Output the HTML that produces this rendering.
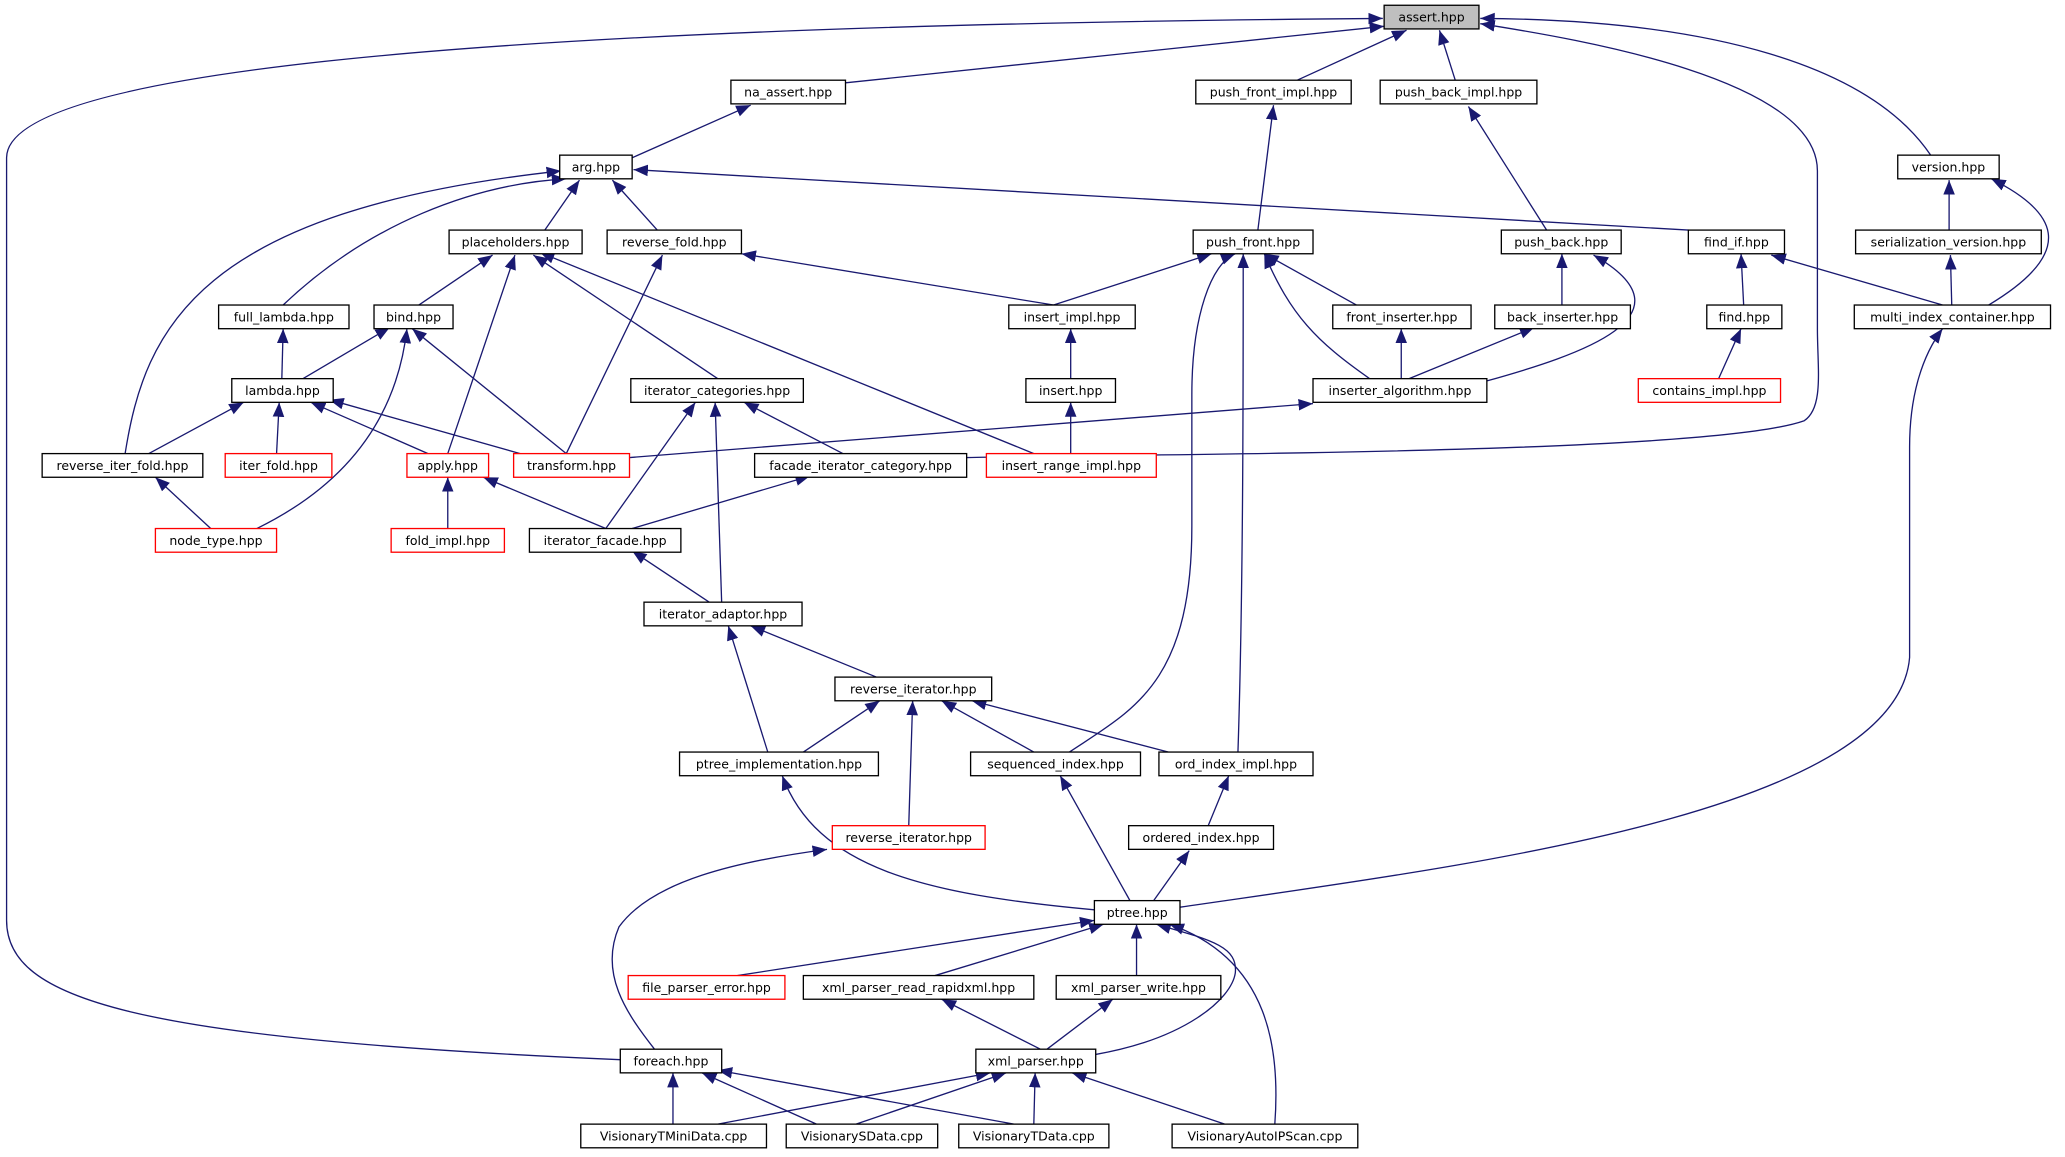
<!DOCTYPE html>
<html><head><meta charset="utf-8"><style>html,body{margin:0;padding:0;background:#fff}svg{display:block}text{font-family:"DejaVu Sans","Liberation Sans",sans-serif;font-size:9.5px;fill:#000}</style></head><body>
<svg width="2065" height="1157" viewBox="0 0 1568 880" preserveAspectRatio="none" xmlns="http://www.w3.org/2000/svg">
<defs><marker id="a" viewBox="0 0 10 10" refX="10" refY="5" markerWidth="11" markerHeight="11" markerUnits="userSpaceOnUse" orient="auto"><path d="M0,1 L10,5 L0,9 z" fill="#191970"/></marker></defs>
<g fill="none" stroke="#191970" stroke-width="1" marker-end="url(#a)">
<path d="M642,63 L1051,20"/>
<path d="M985,61 L1068,23"/>
<path d="M1105,61 L1093,23"/>
<path d="M1466,118 C1420,50 1300,15 1124,14"/>
<path d="M734,348 C900,345 1300,345 1370,320 C1385,310 1380,280 1380,250 L1380,130 C1380,60 1200,30 1124,18"/>
<path d="M471,806 C100,790 5,760 5,700 L5,120 C5,60 300,20 1050,14"/>
<path d="M480,120 L570,80"/>
<path d="M1282,175 L481,129"/>
<path d="M413,176 L440,137"/>
<path d="M500,176 L465,137"/>
<path d="M215,232 C280,170 360,140 430,136"/>
<path d="M95,345 C110,250 150,160 426,130"/>
<path d="M955,176 L967,80"/>
<path d="M1175,176 L1115,81"/>
<path d="M1480,176 L1480,137"/>
<path d="M1510,232 C1580,190 1560,160 1512,136"/>
<path d="M1475,232 L1345,194"/>
<path d="M1482,232 L1481,194"/>
<path d="M1324,232 L1322,193"/>
<path d="M1305,288 L1322,250"/>
<path d="M318,232 L374,194"/>
<path d="M340,345 L391,194"/>
<path d="M545,288 L405,194"/>
<path d="M785,345 L410,192"/>
<path d="M430,345 L503,194"/>
<path d="M800,232 L563,193"/>
<path d="M800,232 L920,193"/>
<path d="M1030,232 L960,193"/>
<path d="M1040,288 C1000,260 980,240 960,193"/>
<path d="M812,572 C860,540 905,520 905,400 L905,300 C905,240 920,200 938,193"/>
<path d="M940,572 C944,450 944,300 944,193"/>
<path d="M1186,232 L1186,193"/>
<path d="M1128,290 C1200,270 1290,240 1210,194"/>
<path d="M1064,288 L1064,250"/>
<path d="M1070,288 L1165,249"/>
<path d="M214,288 L215,250"/>
<path d="M230,288 L296,249"/>
<path d="M430,345 L313,250"/>
<path d="M195,402 C250,375 300,330 309,250"/>
<path d="M813,288 L813,250"/>
<path d="M478,348 L997,307"/>
<path d="M113,345 L185,306"/>
<path d="M210,345 L212,306"/>
<path d="M325,345 L236,306"/>
<path d="M395,345 L250,304"/>
<path d="M640,345 L565,306"/>
<path d="M460,402 L528,306"/>
<path d="M548,459 L543,306"/>
<path d="M813,345 L813,306"/>
<path d="M160,402 L118,363"/>
<path d="M340,402 L340,363"/>
<path d="M460,402 L367,363"/>
<path d="M480,402 L615,362"/>
<path d="M540,459 L480,419"/>
<path d="M668,516 L570,476"/>
<path d="M583,572 L553,476"/>
<path d="M610,572 L668,533"/>
<path d="M690,629 L693,533"/>
<path d="M785,572 L715,533"/>
<path d="M887,572 L738,533"/>
<path d="M858,685 L805,590"/>
<path d="M917,629 L933,590"/>
<path d="M876,685 L903,647"/>
<path d="M831,692 C700,680 620,660 594,590"/>
<path d="M896,690 C1100,660 1440,620 1450,500 L1450,340 C1450,300 1460,270 1475,250"/>
<path d="M497,798 C475,770 455,740 470,705 C495,670 560,655 628,646"/>
<path d="M560,742 L831,700"/>
<path d="M710,742 L838,703"/>
<path d="M863,742 L863,703"/>
<path d="M832,802 C900,790 935,760 938,740 C940,720 920,715 878,703"/>
<path d="M968,855 C972,800 965,730 888,703"/>
<path d="M790,798 L715,760"/>
<path d="M795,798 L845,760"/>
<path d="M511,855 L511,816"/>
<path d="M620,855 L533,816"/>
<path d="M770,855 L545,814"/>
<path d="M545,855 L752,816"/>
<path d="M650,855 L764,816"/>
<path d="M785,855 L786,816"/>
<path d="M930,855 L814,816"/>
</g>
<g stroke-width="1">
<rect x="1051" y="4" width="72" height="18" fill="#bfbfbf" stroke="#000"/><text x="1087" y="16.5" text-anchor="middle">assert.hpp</text>
<rect x="555" y="61" width="87" height="18" fill="#fff" stroke="#000"/><text x="598.5" y="73.5" text-anchor="middle">na_assert.hpp</text>
<rect x="908" y="61" width="118" height="18" fill="#fff" stroke="#000"/><text x="967" y="73.5" text-anchor="middle">push_front_impl.hpp</text>
<rect x="1048" y="61" width="119" height="18" fill="#fff" stroke="#000"/><text x="1107.5" y="73.5" text-anchor="middle">push_back_impl.hpp</text>
<rect x="1441" y="118" width="77" height="18" fill="#fff" stroke="#000"/><text x="1479.5" y="130.5" text-anchor="middle">version.hpp</text>
<rect x="425" y="118" width="55" height="18" fill="#fff" stroke="#000"/><text x="452.5" y="130.5" text-anchor="middle">arg.hpp</text>
<rect x="341" y="175" width="101" height="18" fill="#fff" stroke="#000"/><text x="391.5" y="187.5" text-anchor="middle">placeholders.hpp</text>
<rect x="461" y="175" width="102" height="18" fill="#fff" stroke="#000"/><text x="512" y="187.5" text-anchor="middle">reverse_fold.hpp</text>
<rect x="906" y="175" width="91" height="18" fill="#fff" stroke="#000"/><text x="951.5" y="187.5" text-anchor="middle">push_front.hpp</text>
<rect x="1140" y="175" width="91" height="18" fill="#fff" stroke="#000"/><text x="1185.5" y="187.5" text-anchor="middle">push_back.hpp</text>
<rect x="1282" y="175" width="73" height="18" fill="#fff" stroke="#000"/><text x="1318.5" y="187.5" text-anchor="middle">find_if.hpp</text>
<rect x="1409" y="175" width="141" height="18" fill="#fff" stroke="#000"/><text x="1479.5" y="187.5" text-anchor="middle">serialization_version.hpp</text>
<rect x="166" y="232" width="99" height="18" fill="#fff" stroke="#000"/><text x="215.5" y="244.5" text-anchor="middle">full_lambda.hpp</text>
<rect x="284" y="232" width="60" height="18" fill="#fff" stroke="#000"/><text x="314" y="244.5" text-anchor="middle">bind.hpp</text>
<rect x="766" y="232" width="96" height="18" fill="#fff" stroke="#000"/><text x="814" y="244.5" text-anchor="middle">insert_impl.hpp</text>
<rect x="1012" y="232" width="105" height="18" fill="#fff" stroke="#000"/><text x="1064.5" y="244.5" text-anchor="middle">front_inserter.hpp</text>
<rect x="1135" y="232" width="103" height="18" fill="#fff" stroke="#000"/><text x="1186.5" y="244.5" text-anchor="middle">back_inserter.hpp</text>
<rect x="1296" y="232" width="57" height="18" fill="#fff" stroke="#000"/><text x="1324.5" y="244.5" text-anchor="middle">find.hpp</text>
<rect x="1408" y="232" width="149" height="18" fill="#fff" stroke="#000"/><text x="1482.5" y="244.5" text-anchor="middle">multi_index_container.hpp</text>
<rect x="176" y="288" width="77" height="18" fill="#fff" stroke="#000"/><text x="214.5" y="300.5" text-anchor="middle">lambda.hpp</text>
<rect x="479" y="288" width="131" height="18" fill="#fff" stroke="#000"/><text x="544.5" y="300.5" text-anchor="middle">iterator_categories.hpp</text>
<rect x="779" y="288" width="68" height="18" fill="#fff" stroke="#000"/><text x="813" y="300.5" text-anchor="middle">insert.hpp</text>
<rect x="997" y="288" width="132" height="18" fill="#fff" stroke="#000"/><text x="1063" y="300.5" text-anchor="middle">inserter_algorithm.hpp</text>
<rect x="1244" y="288" width="108" height="18" fill="#fff" stroke="#f00"/><text x="1298" y="300.5" text-anchor="middle">contains_impl.hpp</text>
<rect x="32" y="345" width="122" height="18" fill="#fff" stroke="#000"/><text x="93" y="357.5" text-anchor="middle">reverse_iter_fold.hpp</text>
<rect x="171" y="345" width="81" height="18" fill="#fff" stroke="#f00"/><text x="211.5" y="357.5" text-anchor="middle">iter_fold.hpp</text>
<rect x="309" y="345" width="62" height="18" fill="#fff" stroke="#f00"/><text x="340" y="357.5" text-anchor="middle">apply.hpp</text>
<rect x="390" y="345" width="88" height="18" fill="#fff" stroke="#f00"/><text x="434" y="357.5" text-anchor="middle">transform.hpp</text>
<rect x="573" y="345" width="161" height="18" fill="#fff" stroke="#000"/><text x="653.5" y="357.5" text-anchor="middle">facade_iterator_category.hpp</text>
<rect x="749" y="345" width="129" height="18" fill="#fff" stroke="#f00"/><text x="813.5" y="357.5" text-anchor="middle">insert_range_impl.hpp</text>
<rect x="118" y="402" width="92" height="18" fill="#fff" stroke="#f00"/><text x="164" y="414.5" text-anchor="middle">node_type.hpp</text>
<rect x="297" y="402" width="86" height="18" fill="#fff" stroke="#f00"/><text x="340" y="414.5" text-anchor="middle">fold_impl.hpp</text>
<rect x="402" y="402" width="115" height="18" fill="#fff" stroke="#000"/><text x="459.5" y="414.5" text-anchor="middle">iterator_facade.hpp</text>
<rect x="489" y="458" width="120" height="18" fill="#fff" stroke="#000"/><text x="549" y="470.5" text-anchor="middle">iterator_adaptor.hpp</text>
<rect x="634" y="515" width="119" height="18" fill="#fff" stroke="#000"/><text x="693.5" y="527.5" text-anchor="middle">reverse_iterator.hpp</text>
<rect x="516" y="572" width="151" height="18" fill="#fff" stroke="#000"/><text x="591.5" y="584.5" text-anchor="middle">ptree_implementation.hpp</text>
<rect x="737" y="572" width="129" height="18" fill="#fff" stroke="#000"/><text x="801.5" y="584.5" text-anchor="middle">sequenced_index.hpp</text>
<rect x="880" y="572" width="117" height="18" fill="#fff" stroke="#000"/><text x="938.5" y="584.5" text-anchor="middle">ord_index_impl.hpp</text>
<rect x="632" y="628" width="116" height="18" fill="#fff" stroke="#f00"/><text x="690" y="640.5" text-anchor="middle">reverse_iterator.hpp</text>
<rect x="857" y="628" width="110" height="18" fill="#fff" stroke="#000"/><text x="912" y="640.5" text-anchor="middle">ordered_index.hpp</text>
<rect x="831" y="685" width="65" height="18" fill="#fff" stroke="#000"/><text x="863.5" y="697.5" text-anchor="middle">ptree.hpp</text>
<rect x="477" y="742" width="119" height="18" fill="#fff" stroke="#f00"/><text x="536.5" y="754.5" text-anchor="middle">file_parser_error.hpp</text>
<rect x="610" y="742" width="175" height="18" fill="#fff" stroke="#000"/><text x="697.5" y="754.5" text-anchor="middle">xml_parser_read_rapidxml.hpp</text>
<rect x="802" y="742" width="125" height="18" fill="#fff" stroke="#000"/><text x="864.5" y="754.5" text-anchor="middle">xml_parser_write.hpp</text>
<rect x="471" y="798" width="77" height="18" fill="#fff" stroke="#000"/><text x="509.5" y="810.5" text-anchor="middle">foreach.hpp</text>
<rect x="741" y="798" width="91" height="18" fill="#fff" stroke="#000"/><text x="786.5" y="810.5" text-anchor="middle">xml_parser.hpp</text>
<rect x="441" y="855" width="141" height="18" fill="#fff" stroke="#000"/><text x="511.5" y="867.5" text-anchor="middle">VisionaryTMiniData.cpp</text>
<rect x="597" y="855" width="115" height="18" fill="#fff" stroke="#000"/><text x="654.5" y="867.5" text-anchor="middle">VisionarySData.cpp</text>
<rect x="728" y="855" width="114" height="18" fill="#fff" stroke="#000"/><text x="785" y="867.5" text-anchor="middle">VisionaryTData.cpp</text>
<rect x="890" y="855" width="141" height="18" fill="#fff" stroke="#000"/><text x="960.5" y="867.5" text-anchor="middle">VisionaryAutoIPScan.cpp</text>
</g>
</svg>
</body></html>
